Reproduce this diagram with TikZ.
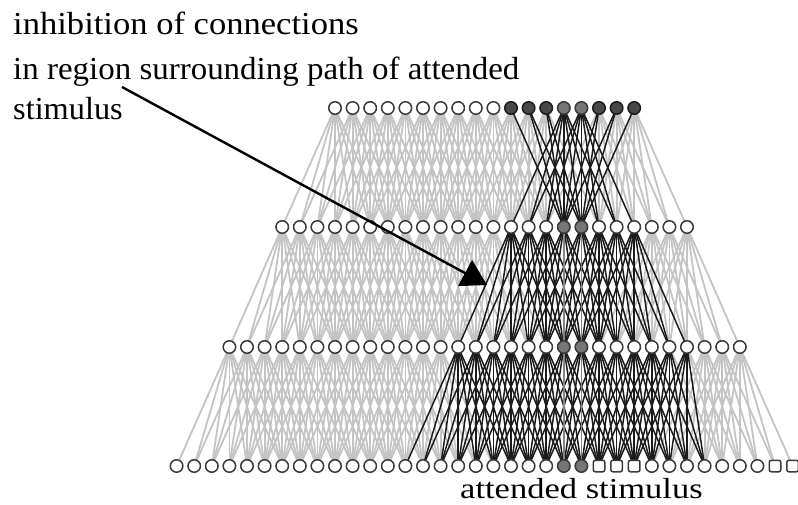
\documentclass[tikz,border=0pt]{standalone}
\usepackage{fontspec}
\setmainfont{Liberation Serif}
\usetikzlibrary{arrows.meta}
\pgfdeclarelayer{edges}
\pgfsetlayers{edges,main}
\definecolor{lightedge}{HTML}{C4C4C4}
\definecolor{darkedge}{HTML}{1C1C1C}
\definecolor{midedge}{HTML}{858585}
\definecolor{outline}{HTML}{3A3A3A}
\definecolor{winfill}{HTML}{484848}
\definecolor{attfill}{HTML}{767676}
\tikzset{
  kind0/.style={circle, draw=outline, line width=1.5pt, fill=white, minimum size=12.5pt, inner sep=0pt},
  kind1/.style={kind0, fill=winfill, draw=darkedge},
  kind2/.style={kind0, fill=attfill, draw=outline},
  kind3/.style={rectangle, rounded corners=2pt, draw=outline, line width=1.5pt, fill=white, minimum size=11.5pt, inner sep=0pt},
  weak/.style={draw=lightedge, line width=1.8pt},
  strong/.style={draw=darkedge, line width=1.5pt},
  medium/.style={draw=midedge, line width=1.8pt},
  notetext/.style={font=\fontsize{32}{32}\selectfont, anchor=base west, inner sep=0pt, text=black},
  pointer/.style={draw=black, line width=2.4pt, -{Triangle[length=25pt,width=29pt]}}
}
\begin{document}
\begin{tikzpicture}[x=1pt,y=-1pt]
\useasboundingbox (0,0) rectangle (798,505);

% units
\foreach \k/\y/\n in {1/108/18, 2/227/24, 3/347/30, 4/466/36} {
  \pgfmathsetmacro\xo{335-3*17.6*(\k-1)}
  \pgfmathtruncatemacro\last{\n-1}
  \pgfmathtruncatemacro\att{13+3*(\k-1)}
  \foreach \i in {0,...,\last} {
    \pgfmathtruncatemacro\code{(\i==\att || \i==\att+1) ? 2 : ((\k==1 && \i>=10 && \i<=17) ? 1 : ((\k==4 && ((\i>=24 && \i<=26) || \i>=34)) ? 3 : 0))}
    \node[kind\code] (n\k-\i) at ({\xo+17.6*\i},\y) {};
  }
}

% connections
\begin{pgfonlayer}{edges}
\foreach \pass in {0,1} {
  \foreach \k/\n/\ulo/\uhi/\dlo/\dhi in {1/18/10/17/13/20, 2/24/13/20/13/26, 3/30/13/26/13/30} {
    \pgfmathtruncatemacro\kk{\k+1}
    \pgfmathtruncatemacro\last{\n-1}
    \foreach \i in {0,...,\last} {
      \foreach \d in {0,...,6} {
        \pgfmathtruncatemacro\j{\i+\d}
        \pgfmathtruncatemacro\dark{\k==1 ? (((\i==13 || \i==14) || ((\j==16 || \j==17) && \i>=10 && \i<=17)) ? 1 : 0) : ((\i>=\ulo && \i<=\uhi && \j>=\dlo && \j<=\dhi) ? 1 : 0)}
        \ifnum\dark=\pass
          \ifnum\dark=1
            \draw[strong] (n\k-\i.center) -- (n\kk-\j.center);
          \else
            \draw[weak] (n\k-\i.center) -- (n\kk-\j.center);
          \fi
        \fi
      }
    }
  }
}
\foreach \k in {2,3} {
  \pgfmathtruncatemacro\kk{\k+1}
  \pgfmathtruncatemacro\a{13+3*(\k-1)}
  \pgfmathtruncatemacro\b{\a+1}
  \pgfmathtruncatemacro\ja{\a+3}
  \pgfmathtruncatemacro\jb{\b+3}
  \draw[medium] (n\k-\a.center) -- (n\kk-\ja.center);
  \draw[medium] (n\k-\b.center) -- (n\kk-\jb.center);
}
\end{pgfonlayer}

% texts
\node[notetext] (t1) at (13,35) {\scalebox{1.08}[1]{inhibition of connections}};
\node[notetext] (t2) at (13,80) {\scalebox{1.03}[1]{in region surrounding path of attended}};
\node[notetext] (t3) at (13,120) {\scalebox{1.01}[1]{stimulus}};
\node[notetext, font=\fontsize{29}{29}\selectfont] (t4) at (460,498) {\scalebox{1.19}[1]{attended stimulus}};

% pointer
\coordinate (tail) at (122,87);
\coordinate (head) at (487,285);
\draw[pointer] (tail) -- (head);
\end{tikzpicture}
\end{document}
